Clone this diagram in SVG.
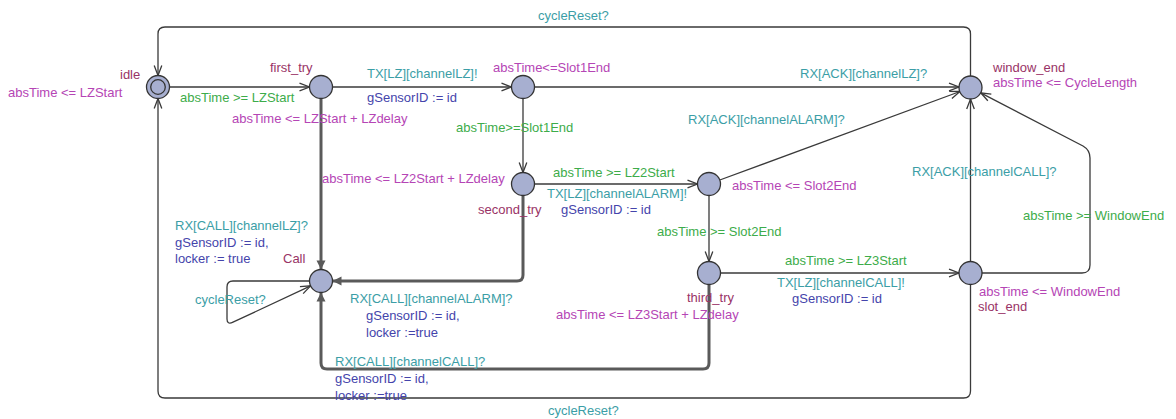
<svg xmlns="http://www.w3.org/2000/svg" width="1176" height="419" viewBox="0 0 1176 419">
  <style>
    text { font-family: "Liberation Sans", Arial, sans-serif; font-size: 13px; }
    .name { fill: #993366; }
    .inv { fill: #b545b5; }
    .guard { fill: #3dac4a; }
    .sync { fill: #3b9ea6; }
    .upd { fill: #4444ab; }
    .loc { fill: #a7afd0; stroke: #333; stroke-width: 1.3; }
    .edge { fill: none; stroke: #3a3a3a; stroke-width: 1.3; marker-end: url(#open); }
    .thick { fill: none; stroke: #5a5a5a; stroke-width: 3; marker-end: url(#solid); }
  </style>
  <defs>
    <marker id="open" markerUnits="userSpaceOnUse" markerWidth="14" markerHeight="12" viewBox="-12 -6 14 12" refX="0" refY="0" orient="auto">
      <path d="M-10,-3.8 L0,0 L-10,3.8" fill="none" stroke="#3a3a3a" stroke-width="1.3"/>
    </marker>
    <marker id="solid" markerUnits="userSpaceOnUse" markerWidth="14" markerHeight="12" viewBox="-12 -6 14 12" refX="0" refY="0" orient="auto">
      <path d="M-9,-4.5 L0,0 L-9,4.5 Z" fill="#5a5a5a"/>
    </marker>
  </defs>

  <g id="connectors">
    <!-- idle -> first_try -->
    <path class="edge" d="M169.5,87 L309.5,87"/>
    <!-- first_try -> slot1 -->
    <path class="edge" d="M332.5,87 L511.5,87"/>
    <!-- slot1 -> window_end -->
    <path class="edge" d="M534.5,87 L959,87"/>
    <!-- first_try -> Call -->
    <path class="thick" d="M321,98.5 L321,269.5"/>
    <!-- slot1 -> second_try -->
    <path class="edge" d="M523,98.5 L523,172.5"/>
    <!-- second_try -> slot2 -->
    <path class="edge" d="M534.5,184 L697.5,184"/>
    <!-- second_try -> Call -->
    <path class="thick" d="M523,195.5 V275 Q523,281 517,281 H332.5"/>
    <!-- slot2 -> window_end -->
    <path class="edge" d="M719.8,180 L960,91.5"/>
    <!-- slot2 -> third_try -->
    <path class="edge" d="M709,195.5 L709,261.5"/>
    <!-- third_try -> slot_end -->
    <path class="edge" d="M720.5,273 L959,273"/>
    <!-- third_try -> Call -->
    <path class="thick" d="M709,284.5 V363 Q709,369 703,369 H327 Q321,369 321,363 V292.5"/>
    <!-- slot_end -> window_end (direct) -->
    <path class="edge" d="M970.5,261.5 L970.5,99"/>
    <!-- slot_end -> window_end (timeout) -->
    <path class="edge" d="M982,273 H1082 Q1090,273 1090,265 V158 Q1090,150 1083,146 L980.7,92.8"/>
    <!-- Call self loop -->
    <path class="edge" d="M309.5,281 H233 Q227,281 227,287 V319 Q227,325 233,322.2 L310.6,285.9"/>
    <!-- window_end -> idle -->
    <path class="edge" d="M970.5,76 V34 Q970.5,27 963.5,27 H165 Q158,27 158,34 V75.5"/>
    <!-- slot_end -> idle -->
    <path class="edge" d="M970.5,284.5 V391 Q970.5,398 963.5,398 H165 Q158,398 158,391 V98.5"/>

    <!-- edge labels -->
    <text class="guard" x="180" y="102">absTime &gt;= LZStart</text>
    <text class="sync" x="367" y="78">TX[LZ][channelLZ]!</text>
    <text class="upd" x="367" y="101.5">gSensorID := id</text>
    <text class="sync" x="538" y="19.5">cycleReset?</text>
    <text class="guard" x="456" y="132">absTime&gt;=Slot1End</text>
    <text class="sync" x="800" y="78">RX[ACK][channelLZ]?</text>
    <text class="sync" x="688" y="124">RX[ACK][channelALARM]?</text>
    <text class="sync" x="175" y="230">RX[CALL][channelLZ]?</text>
    <text class="upd" x="175" y="247">gSensorID := id,</text>
    <text class="upd" x="175" y="263">locker := true</text>
    <text class="guard" x="553" y="177">absTime &gt;= LZ2Start</text>
    <text class="sync" x="547" y="198">TX[LZ][channelALARM]!</text>
    <text class="upd" x="561" y="214">gSensorID := id</text>
    <text class="guard" x="657" y="236">absTime &gt;= Slot2End</text>
    <text class="guard" x="785" y="265">absTime &gt;= LZ3Start</text>
    <text class="sync" x="777" y="287">TX[LZ][channelCALL]!</text>
    <text class="upd" x="792" y="302.5">gSensorID := id</text>
    <text class="sync" x="912" y="175.5">RX[ACK][channelCALL]?</text>
    <text class="guard" x="1023" y="220">absTime &gt;= WindowEnd</text>
    <text class="sync" x="195" y="304">cycleReset?</text>
    <text class="sync" x="350" y="303">RX[CALL][channelALARM]?</text>
    <text class="upd" x="366" y="320">gSensorID := id,</text>
    <text class="upd" x="366" y="337">locker :=true</text>
    <text class="sync" x="335" y="366">RX[CALL][channelCALL]?</text>
    <text class="upd" x="335" y="383">gSensorID := id,</text>
    <text class="upd" x="335" y="400">locker :=true</text>
    <text class="sync" x="548" y="415">cycleReset?</text>
  </g>

  <g id="idle">
    <circle class="loc" cx="158" cy="87" r="11.5"/>
    <circle cx="158" cy="87" r="7.3" fill="none" stroke="#333" stroke-width="1.3"/>
    <text class="name" x="120" y="79">idle</text>
    <text class="inv" x="8" y="97">absTime &lt;= LZStart</text>
  </g>

  <g id="first_try">
    <circle class="loc" cx="321" cy="87" r="11.5"/>
    <text class="name" x="270" y="72">first_try</text>
    <text class="inv" x="232" y="123">absTime &lt;= LZStart + LZdelay</text>
  </g>

  <g id="slot1">
    <circle class="loc" cx="523" cy="87" r="11.5"/>
    <text class="inv" x="493" y="72">absTime&lt;=Slot1End</text>
  </g>

  <g id="window_end">
    <circle class="loc" cx="970.5" cy="87.5" r="11.5"/>
    <text class="name" x="993" y="72">window_end</text>
    <text class="inv" x="993" y="87">absTime &lt;= CycleLength</text>
  </g>

  <g id="second_try">
    <circle class="loc" cx="523" cy="184" r="11.5"/>
    <text class="name" x="478" y="214">second_try</text>
    <text class="inv" x="322" y="183">absTime &lt;= LZ2Start + LZdelay</text>
  </g>

  <g id="slot2">
    <circle class="loc" cx="709" cy="184" r="11.5"/>
    <text class="inv" x="732" y="190">absTime &lt;= Slot2End</text>
  </g>

  <g id="third_try">
    <circle class="loc" cx="709" cy="273" r="11.5"/>
    <text class="name" x="687" y="302">third_try</text>
    <text class="inv" x="556" y="319">absTime &lt;= LZ3Start + LZdelay</text>
  </g>

  <g id="slot_end">
    <circle class="loc" cx="970.5" cy="273" r="11.5"/>
    <text class="inv" x="979" y="296">absTime &lt;= WindowEnd</text>
    <text class="name" x="978" y="311">slot_end</text>
  </g>

  <g id="Call">
    <circle class="loc" cx="321" cy="281" r="11.5"/>
    <text class="name" x="283" y="263">Call</text>
  </g>
</svg>
